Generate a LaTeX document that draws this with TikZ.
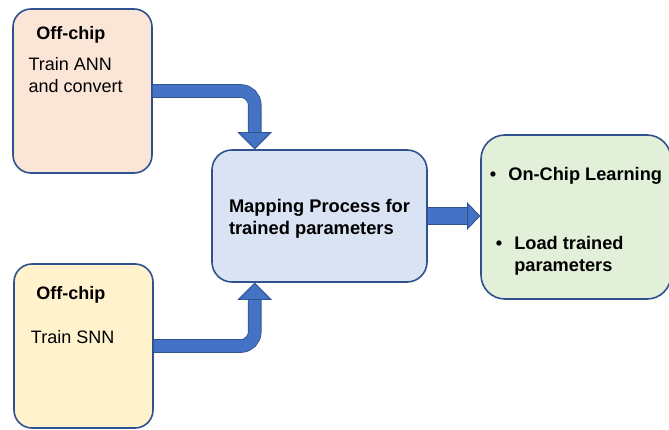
\documentclass[tikz,border=0pt]{standalone}
\usepackage{fontspec}
\setmainfont{Liberation Sans}
\usepackage{tikz}
\usetikzlibrary{arrows.meta, positioning}
\definecolor{boxline}{RGB}{47,82,143}
\definecolor{arrowblue}{RGB}{68,114,196}
\definecolor{peach}{RGB}{251,229,214}
\definecolor{cream}{RGB}{255,242,204}
\definecolor{paleblue}{RGB}{218,227,243}
\definecolor{palegreen}{RGB}{226,240,217}
\tikzstyle{offchip}=[rectangle, rounded corners=18pt, minimum width=139pt, minimum height=164pt, draw=boxline, line width=1.6pt, inner xsep=15.5pt, inner ysep=17pt, font=\fontsize{18}{22}\selectfont]
\tikzstyle{mapbox}=[rectangle, rounded corners=20pt, minimum width=215pt, minimum height=132pt, draw=boxline, line width=1.6pt, fill=paleblue, align=left, font=\fontsize{18.3}{21.5}\selectfont\bfseries]
\tikzstyle{chipbox}=[rectangle, rounded corners=24pt, minimum width=190pt, minimum height=164pt, draw=boxline, line width=1.6pt, fill=palegreen, align=left, font=\fontsize{18.2}{22}\selectfont\bfseries]
\tikzstyle{arrow}=[line width=12pt, arrowblue, rounded corners=14pt, -{Triangle[length=17pt, width=34pt, line width=0.8pt, color=boxline, fill=arrowblue]}, preaction={draw=boxline, line width=13.6pt, -{Triangle[length=17pt, width=34pt, line width=0.8pt]}}]
\tikzstyle{bigarrow}=[line width=16pt, arrowblue, -{Triangle[length=13pt, width=27pt, line width=0.8pt, color=boxline, fill=arrowblue]}, preaction={draw=boxline, line width=17.6pt, -{Triangle[length=13pt, width=27pt, line width=0.8pt]}}]

\begin{document}
\begin{tikzpicture}[x=1pt, y=1pt]
		\useasboundingbox (0,0) rectangle (669,-430);
		\node (offann) [offchip, fill=peach] at (82.5,-91) {\parbox[c][130pt][t]{108pt}{\hspace*{7.8pt}\textbf{Off-chip}\\[9pt]Train ANN\\and convert}};
		\node (offsnn) [offchip, fill=cream] at (83.5,-346) {\parbox[c][130pt][t]{108pt}{\vspace*{5pt}\hspace*{6.8pt}\textbf{Off-chip}\\[22pt]\hspace*{1.5pt}Train SNN}};
		% struts on the first lines push the text blocks a little down
		\node (mapping) [mapbox] at (319.5,-216) {\rule{0pt}{18.7pt}Mapping Process for\\trained parameters};
		\node (onchip) [chipbox] at (576,-217) {\rule{0pt}{21.3pt}\textbullet\hspace{12pt}On-Chip Learning\\[47pt]\hspace*{6pt}\textbullet\hspace{12pt}Load trained\\\hspace*{24.3pt}parameters};

		\draw [arrow] (offann.east) -| ([xshift=43.5pt]mapping.north west);
		\draw [arrow] (offsnn.east) -| ([xshift=43.5pt]mapping.south west);
		\draw [bigarrow] (mapping.east) -- (mapping.east -| onchip.west);
	\end{tikzpicture}
\end{document}
